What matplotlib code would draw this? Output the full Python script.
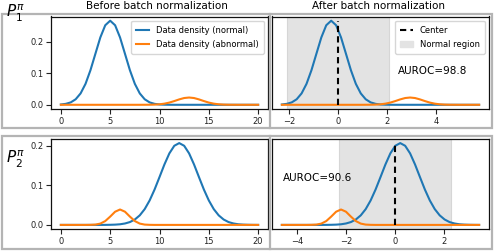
import numpy as np
import matplotlib
matplotlib.use("Agg")
import matplotlib.pyplot as plt
from matplotlib.lines import Line2D
from matplotlib.patches import Rectangle, Patch

# ---------------- data ----------------
x_values = [0, 0.5, 1, 1.5, 2, 2.5, 3, 3.5, 4, 4.5,
            5, 5.5, 6, 6.5, 7, 7.5, 8, 8.5, 9, 9.5,
            10, 10.5, 11, 11.5, 12, 12.5, 13, 13.5, 14, 14.5,
            15, 15.5, 16, 16.5, 17, 17.5, 18, 18.5, 19, 19.5,
            20]

# P1: density before batch norm
p1_normal = [0.0010, 0.0030, 0.0076, 0.0175, 0.0360, 0.0663, 0.1094, 0.1613, 0.2130, 0.2516,
             0.2660, 0.2516, 0.2130, 0.1613, 0.1094, 0.0663, 0.0360, 0.0175, 0.0076, 0.0030,
             0.0010, 0.0003, 0.0001, 0, 0, 0, 0, 0, 0, 0,
             0, 0, 0, 0, 0, 0, 0, 0, 0, 0,
             0]
p1_abnormal = [0, 0, 0, 0, 0, 0, 0, 0, 0, 0,
               0, 0, 0, 0, 0, 0, 0, 0.0001, 0.0002, 0.0006,
               0.0016, 0.0036, 0.0070, 0.0118, 0.0171, 0.0214, 0.0230, 0.0214, 0.0171, 0.0118,
               0.0070, 0.0036, 0.0016, 0.0006, 0.0002, 0.0001, 0, 0, 0, 0,
               0]

# P2: density before batch norm
p2_normal = [0, 0, 0, 0, 0, 0, 0, 0, 0, 0.0001,
             0.0003, 0.0007, 0.0016, 0.0036, 0.0072, 0.0137, 0.0242, 0.0400, 0.0619, 0.0895,
             0.1210, 0.1530, 0.1810, 0.2002, 0.2070, 0.2002, 0.1810, 0.1530, 0.1210, 0.0895,
             0.0619, 0.0400, 0.0242, 0.0137, 0.0072, 0.0036, 0.0016, 0.0007, 0.0003, 0.0001,
             0]
p2_abnormal = [0, 0, 0, 0, 0, 0, 0.0002, 0.0008, 0.0033, 0.0097,
               0.0210, 0.0334, 0.0390, 0.0334, 0.0210, 0.0097, 0.0033, 0.0008, 0.0002, 0,
               0, 0, 0, 0, 0, 0, 0, 0, 0, 0,
               0, 0, 0, 0, 0, 0, 0, 0, 0, 0,
               0]

# batch statistics used for normalisation
p1_batch_mean, p1_batch_std = 5.7, 2.48
p2_batch_mean, p2_batch_std = 11.45, 2.47
p1_region = (-2.08, 2.08)
p2_region = (-2.3, 2.3)
p1_auroc = "AUROC=98.8"
p2_auroc = "AUROC=90.6"

left_xticks = [0, 5, 10, 15, 20]
p1_right_xticks = [-2, 0, 2, 4]
p2_right_xticks = [-4, -2, 0, 2]
yticks = [0.0, 0.1, 0.2]

# ---------------- figure ----------------
W, H = 496, 252
fig = plt.figure(figsize=(W / 100, H / 100), dpi=100)
fig.patch.set_facecolor("white")


def rect(x0, y0, x1, y1):
    return [x0 / W, 1 - y1 / H, (x1 - x0) / W, (y1 - y0) / H]


BLUE = "#1f77b4"
ORANGE = "#ff7f0e"
SPAN = "#e3e3e3"
BOXC = "#b4b4b4"

# outer grey boxes
for (y0, y1) in [(14, 128), (136, 249)]:
    fig.add_artist(Rectangle((1.5 / W, 1 - y1 / H), (492 - 1.5) / W, (y1 - y0) / H,
                             transform=fig.transFigure, fill=False, edgecolor=BOXC, lw=1.6))
    fig.add_artist(Line2D([270 / W, 270 / W], [1 - y1 / H, 1 - y0 / H],
                          transform=fig.transFigure, color=BOXC, lw=1.6))

ax_tl = fig.add_axes(rect(51, 16.5, 268, 109))
ax_tr = fig.add_axes(rect(272, 16.5, 489, 109), sharey=ax_tl)
ax_bl = fig.add_axes(rect(51, 139, 268, 229))
ax_br = fig.add_axes(rect(272, 139, 489, 229), sharey=ax_bl)

x_arr = np.array(x_values)
rows = [
    (ax_tl, ax_tr, p1_normal, p1_abnormal, p1_batch_mean, p1_batch_std, p1_region, p1_right_xticks),
    (ax_bl, ax_br, p2_normal, p2_abnormal, p2_batch_mean, p2_batch_std, p2_region, p2_right_xticks),
]

for axl, axr, yn, ya, m, s, reg, rxt in rows:
    axl.plot(x_arr, yn, color=BLUE, lw=1.5, label="Data density (normal)")
    axl.plot(x_arr, ya, color=ORANGE, lw=1.5, label="Data density (abnormal)")
    axl.set_xticks(left_xticks)
    axl.set_yticks(yticks)
    axl.set_yticklabels(["0.0", "0.1", "0.2"])

    xn = (x_arr - m) / s
    axr.axvspan(reg[0], reg[1], facecolor=SPAN, edgecolor="#d6d6d6", lw=0.8, zorder=0)
    axr.plot(xn, yn, color=BLUE, lw=1.5)
    axr.plot(xn, ya, color=ORANGE, lw=1.5)
    axr.plot([0, 0], [0, max(yn)], color="black", ls="--", lw=1.5, dashes=(3, 2))
    axr.set_xticks(rxt)
    axr.tick_params(axis="y", left=False, labelleft=False)

    for ax in (axl, axr):
        ax.tick_params(labelsize=6, length=3.5, width=0.8, colors="#222222", pad=2)
        for sp in ax.spines.values():
            sp.set_linewidth(0.9)
            sp.set_color("#111111")

ax_tl.legend(loc="upper right", fontsize=6, frameon=True, edgecolor="#cccccc",
             fancybox=True, handlelength=1.6, borderpad=0.6, labelspacing=0.6)
ax_tr.legend(handles=[Line2D([], [], color="black", ls="--", lw=1.5, dashes=(3, 2)),
                      Patch(facecolor=SPAN, edgecolor=SPAN)],
             labels=["Center", "Normal region"],
             loc="upper right", fontsize=6, frameon=True, edgecolor="#cccccc",
             fancybox=True, handlelength=1.6, borderpad=0.6, labelspacing=0.6)

fig.text(398 / W, 1 - 71 / H, p1_auroc, fontsize=7.5, va="center", ha="left")
fig.text(283 / W, 1 - 178 / H, p2_auroc, fontsize=7.5, va="center", ha="left")

fig.text(157 / W, 1 - 6 / H, "Before batch normalization", fontsize=7.5, ha="center", va="center")
fig.text(378 / W, 1 - 6 / H, "After batch normalization", fontsize=7.5, ha="center", va="center")

fig.text(6 / W, 1 - 18 / H, r"$P_1^{\pi}$", fontsize=11, ha="left", va="baseline")
fig.text(6 / W, 1 - 163 / H, r"$P_2^{\pi}$", fontsize=11, ha="left", va="baseline")

fig.savefig("out.png", dpi=100, facecolor="white")
